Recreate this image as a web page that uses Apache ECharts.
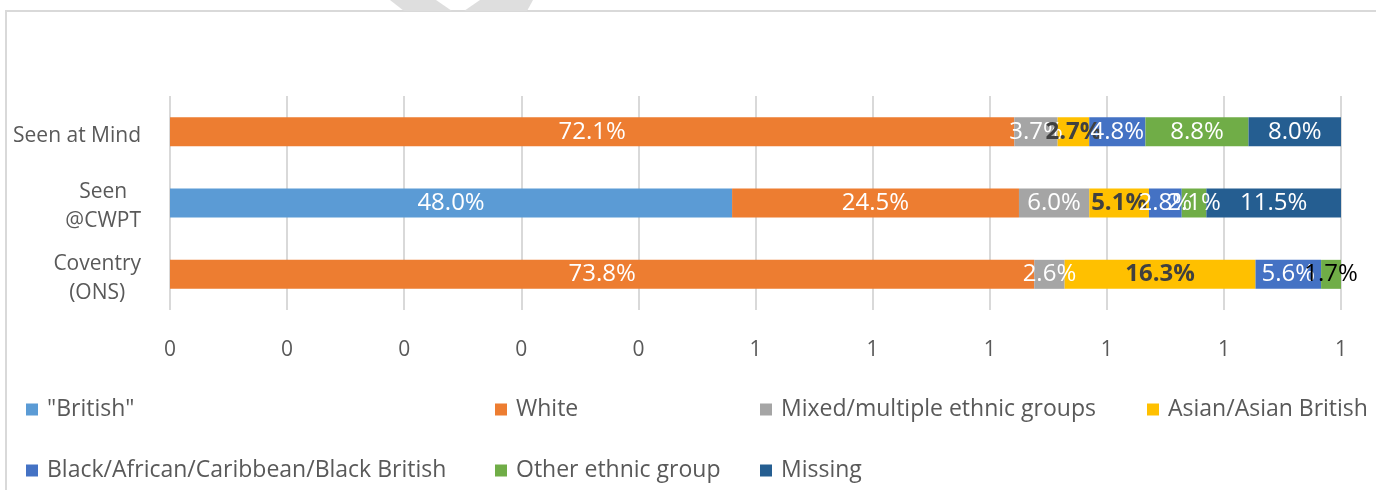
<!DOCTYPE html>
<html>
<head>
<meta charset="utf-8">
<script src="https://cdn.jsdelivr.net/npm/echarts@6/dist/echarts.min.js"></script>
<style>
  html, body { margin: 0; padding: 0; background: #fff; }
  #main { width: 1376px; height: 490px; }
</style>
</head>
<body>
<div id="main"></div>
<script>
// rows, top to bottom
var categories = ['Seen at Mind', 'Seen\n@CWPT', 'Coventry\n(ONS)'];
var seriesNames = ['"British"', 'White', 'Mixed/multiple ethnic groups', 'Asian/Asian British',
    'Black/African/Caribbean/Black British', 'Other ethnic group', 'Missing'];

// shares per row (fractions of 1)
var british = [0, 0.480, 0];
var white = [0.721, 0.245, 0.738];
var mixed = [0.037, 0.060, 0.026];
var asian = [0.027, 0.051, 0.163];
var black = [0.048, 0.028, 0.056];
var other = [0.088, 0.021, 0.017];
var missing = [0.080, 0.115, 0];

// excel rounds the 0.1 steps to whole numbers
var tickLabels = ['0', '0', '0', '0', '0', '1', '1', '1', '1', '1', '1'];

var colors = ['#5B9BD5', '#ED7D31', '#A5A5A5', '#FFC000', '#4472C4', '#70AD47', '#255E91'];
var allValues = [british, white, mixed, asian, black, other, missing];
var FONT = "'Open Sans', sans-serif";

var myChart = echarts.init(document.getElementById('main'));

function pct(p) {
    if (!(p.value > 0)) return '';
    return (p.value * 100).toFixed(1) + '%';
}

var series = [];
for (var s = 0; s < seriesNames.length; s++) {
    var isAsian = s == 3;
    var data = [];
    for (var i = 0; i < categories.length; i++) {
        var item = { value: allValues[s][i] };
        // the small "Other" label on the Coventry row is drawn in black
        if (s == 5 && i == 2) {
            item.label = { color: '#000000' };
        }
        data.push(item);
    }
    series.push({
        name: seriesNames[s],
        type: 'bar',
        stack: 'total',
        barWidth: 29,
        itemStyle: { color: colors[s] },
        label: {
            show: true,
            position: 'inside',
            formatter: pct,
            fontFamily: FONT,
            fontSize: 24,
            color: isAsian ? '#404040' : '#ffffff',
            fontWeight: isAsian ? 'bold' : 'normal'
        },
        labelLayout: { hideOverlap: false },
        emphasis: { disabled: true },
        data: data
    });
}

// legend laid out as excel does: fixed columns, two rows
var legendPos = [
    [21, 393], [490, 393], [755, 393], [1142, 393],
    [21, 454], [490, 454], [755, 454]
];
var legends = [];
for (var k = 0; k < seriesNames.length; k++) {
    legends.push({
        data: [seriesNames[k]],
        left: legendPos[k][0],
        top: legendPos[k][1],
        icon: 'rect',
        itemWidth: 12,
        itemHeight: 12,
        selectedMode: false,
        textStyle: { fontFamily: FONT, fontSize: 23, color: '#595959', padding: [0, 0, 0, 4] }
    });
}

option = {
    animation: false,
    backgroundColor: '#ffffff',
    grid: { left: 170, right: 35, top: 96, bottom: 180 },
    legend: legends,
    xAxis: {
        type: 'value',
        min: 0,
        max: 1,
        interval: 0.1,
        axisLine: { show: false },
        axisTick: { show: false },
        splitLine: { lineStyle: { color: '#d9d9d9', width: 2 } },
        axisLabel: {
            margin: 30,
            fontFamily: FONT,
            fontSize: 21,
            color: '#595959',
            formatter: function(v) {
                return tickLabels[Math.round(v * 10)];
            }
        }
    },
    yAxis: {
        type: 'category',
        inverse: true,
        data: categories,
        axisLine: { show: false },
        axisTick: { show: false },
        axisLabel: {
            margin: 29,
            fontFamily: FONT,
            fontSize: 21,
            color: '#595959',
            padding: [8, 0, 0, 0],
            formatter: function(v) {
                return v.split('\n').map(function(t) { return '{c|' + t + '}'; }).join('\n');
            },
            rich: {
                c: { align: 'center', fontFamily: FONT, fontSize: 21, color: '#595959', lineHeight: 29 }
            }
        }
    },
    graphic: [
        {
            type: 'rect',
            z: -10,
            shape: { x: 6, y: 11, width: 1420, height: 520 },
            style: { fill: null, stroke: '#d9d9d9', lineWidth: 2 }
        },
        {
            type: 'polygon',
            z: 100,
            shape: { points: [[390, 0], [436, 0], [452, 11], [404, 11]] },
            style: { fill: '#dedede' }
        },
        {
            type: 'polygon',
            z: 100,
            shape: { points: [[480, 0], [533, 0], [527, 11], [464, 11]] },
            style: { fill: '#dedede' }
        }
    ],
    series: series
};

myChart.setOption(option);
</script>
</body>
</html>
